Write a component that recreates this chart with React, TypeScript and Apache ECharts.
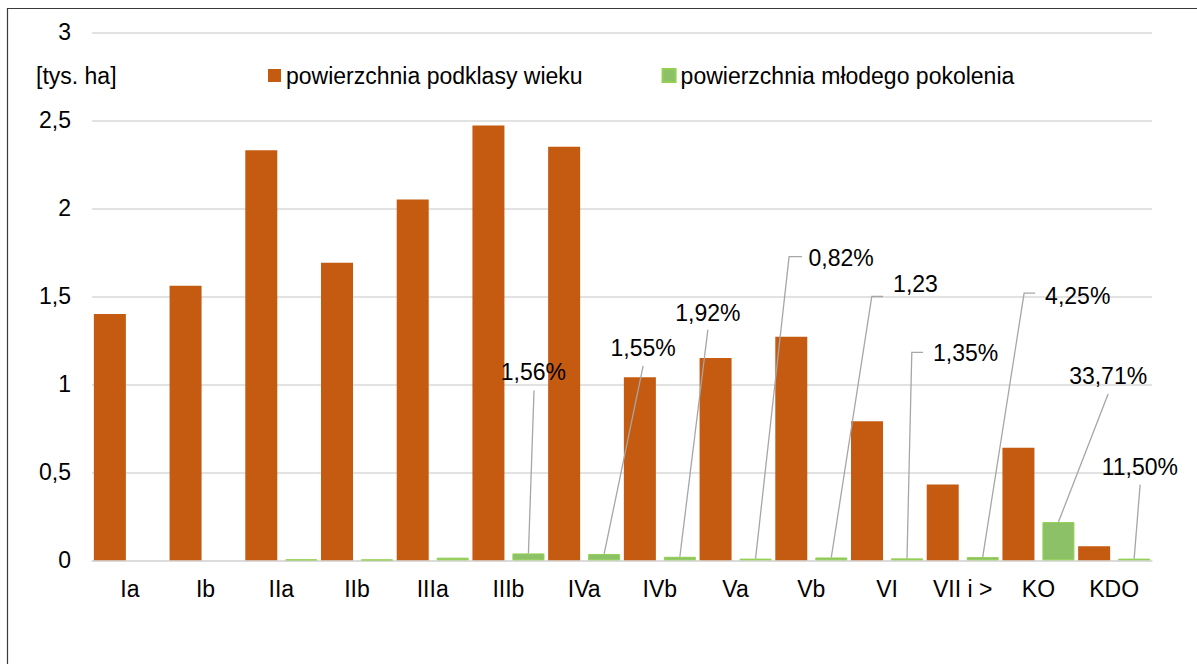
import React, { useEffect, useRef } from "react";
import * as echarts from "echarts";

const CATEGORIES = ["Ia", "Ib", "IIa", "IIb", "IIIa", "IIIb", "IVa", "IVb", "Va", "Vb", "VI", "VII i >", "KO", "KDO"];
const AGE_AREA = [1.40, 1.56, 2.33, 1.69, 2.05, 2.47, 2.35, 1.04, 1.15, 1.27, 0.79, 0.43, 0.64, 0.08];
const YOUNG_AREA = [0, 0, 0.005, 0.004, 0.015, 0.039, 0.036, 0.020, 0.0095, 0.016, 0.011, 0.018, 0.217, 0.0095];
const CALLOUT_LABELS = [null, null, null, null, null, "1,56%", "1,55%", "1,92%", "0,82%", "1,23", "1,35%", "4,25%", "33,71%", "11,50%"];
const SERIES_NAMES = ["powierzchnia podklasy wieku", "powierzchnia młodego pokolenia"];
const UNIT_LABEL = "[tys. ha]";

// style / layout (not data)
const FONT = "Liberation Sans";
const FS = 23;
const BAR_W = 32;
const BAR_GAP = 8;
const GREEN_OFFSET = (BAR_W + BAR_GAP) / 2;
const CALLOUT_LAYOUT: Record<number, { line: number[][]; text: number[]; align: string }> = {
  5: { line: [[0, 0], [5.6, -163]], text: [5, -181], align: "center" },
  6: { line: [[0, 0], [39, -188]], text: [39, -206], align: "center" },
  7: { line: [[0, 0], [28, -227]], text: [28, -244], align: "center" },
  8: { line: [[0, 0], [33.5, -302], [46.5, -302]], text: [53, -301], align: "left" },
  9: { line: [[0, 0], [40.5, -261], [51.8, -261]], text: [61.8, -273], align: "left" },
  10: { line: [[0, 0], [4.8, -206], [16, -206]], text: [26, -205], align: "left" },
  11: { line: [[0, 0], [41.4, -264], [52.4, -264]], text: [62.4, -261], align: "left" },
  12: { line: [[0, 0], [49.7, -128]], text: [49.7, -146], align: "center" },
  13: { line: [[0, 0], [6, -74]], text: [5.7, -92], align: "center" },
};

export default function App() {
  const ref = useRef<HTMLDivElement>(null);
  useEffect(() => {
    document.body.style.margin = "0";
    const chart = echarts.init(ref.current!, null, { renderer: "svg" });
    const textStyle = { fontFamily: FONT, fontSize: FS, color: "#000" };
    chart.setOption({
      animation: false,
      backgroundColor: "#fff",
      textStyle,
      grid: { left: 92, right: 45, top: 32.3, bottom: 103.7, containLabel: false },
      legend: {
        data: SERIES_NAMES,
        left: 263,
        top: 59,
        icon: "rect",
        itemWidth: 13,
        itemHeight: 13,
        itemGap: 79,
        textStyle,
      },
      graphic: [
        {
          type: "rect",
          shape: { x: 7.5, y: 8.5, width: 1400, height: 900 },
          style: { fill: "none", stroke: "#3a3a3a", lineWidth: 1.2 },
          silent: true,
        },
        {
          type: "text",
          x: 36,
          y: 76,
          style: { text: UNIT_LABEL, fontFamily: FONT, fontSize: FS, fill: "#000", verticalAlign: "middle" },
        },
      ],
      xAxis: {
        type: "category",
        data: CATEGORIES,
        axisTick: { show: false },
        axisLine: { lineStyle: { color: "#d9d9d9", width: 1.5 } },
        axisLabel: { ...textStyle, margin: 17, interval: 0 },
      },
      yAxis: {
        type: "value",
        min: 0,
        max: 3,
        interval: 0.5,
        axisLine: { show: false },
        axisTick: { show: false },
        splitLine: { lineStyle: { color: "#d9d9d9", width: 1.5 } },
        axisLabel: {
          ...textStyle,
          margin: 21,
          formatter: (v: number) => String(v).replace(".", ","),
        },
      },
      series: [
        {
          name: SERIES_NAMES[0],
          type: "bar",
          data: AGE_AREA,
          barWidth: BAR_W,
          barGap: (BAR_GAP / BAR_W) * 100 + "%",
          itemStyle: { color: "#c55a11" },
        },
        {
          name: SERIES_NAMES[1],
          type: "bar",
          data: YOUNG_AREA.map((v) => (v === 0 ? { value: v, itemStyle: { borderWidth: 0 } } : v)),
          barWidth: BAR_W,
          itemStyle: { color: "#8cc168", borderColor: "#92d050", borderWidth: 1 },
        },
        {
          name: "callouts",
          type: "custom",
          clip: false,
          z: 5,
          data: CATEGORIES.map((_, i) => [i, YOUNG_AREA[i]]),
          encode: { x: 0, y: 1 },
          renderItem: (params: any, api: any) => {
            const idx = api.value(0);
            const label = CALLOUT_LABELS[idx];
            const layout = CALLOUT_LAYOUT[idx];
            if (!label || !layout) return null;
            const p = api.coord([idx, api.value(1)]);
            const bx = p[0] + GREEN_OFFSET;
            const by = p[1];
            return {
              type: "group",
              children: [
                {
                  type: "polyline",
                  shape: { points: layout.line.map((d) => [bx + d[0], by + d[1]]) },
                  style: { stroke: "#a6a6a6", lineWidth: 1.3, fill: null },
                },
                {
                  type: "text",
                  x: bx + layout.text[0],
                  y: by + layout.text[1],
                  style: {
                    text: label,
                    fontFamily: FONT,
                    fontSize: FS,
                    fill: "#000",
                    align: layout.align,
                    verticalAlign: "middle",
                  },
                },
              ],
            };
          },
        },
      ],
    });
    return () => chart.dispose();
  }, []);
  return <div ref={ref} style={{ width: 1197, height: 664 }} />;
}
